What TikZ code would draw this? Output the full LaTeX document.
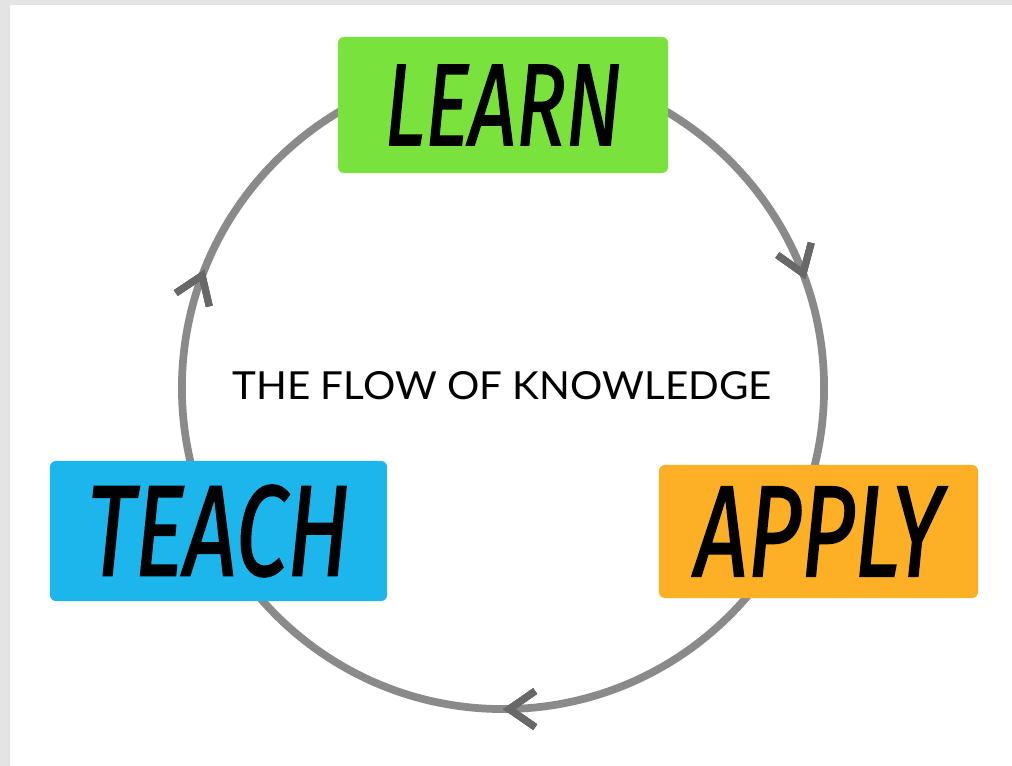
\documentclass[tikz,border=0pt]{standalone}
\usepackage{fontspec}
\usetikzlibrary{arrows.meta,decorations.markings}
\newfontfamily\handfont[FakeBold=1.6]{Fira Sans}
\newfontfamily\titlefont{Lato}
\definecolor{learngreen}{HTML}{7AE23C}
\definecolor{teachblue}{HTML}{1DB6EC}
\definecolor{applyorange}{HTML}{FDAF26}
\definecolor{ringgray}{HTML}{8A8A8A}
\definecolor{edgegray}{HTML}{E4E4E4}
\tikzset{
  ring/.style={draw=ringgray, line width=5.5pt},
  box/.style={rounded corners=0.15cm, inner sep=0pt, text=black},
  flowarrow/.style={decoration={markings,
      mark=at position #1 with {\arrowreversed[ringgray!75!black]{Straight Barb[length=0.65cm,width=0.9cm,line width=5pt]}}},
    postaction=decorate}
}
\newcommand{\handword}[3]{\resizebox{#1}{#2}{\handfont\itshape #3}}
\begin{document}
\begin{tikzpicture}[x=0.025cm,y=0.025cm]
        % Rahmen und Hintergrund
        \fill[edgegray] (0,0) rectangle (1012,766);
        \fill[white] (10,0) rectangle (1012,761);
        \useasboundingbox (0,0) rectangle (1012,766);

        % Kreislauf
        \coordinate (hub) at (503,378);
        \draw[ring, flowarrow=0.055, flowarrow=0.44, flowarrow=0.75] (hub) circle[radius=8.025cm];

        % Stationen
        \node[box, fill=learngreen, minimum width=8.25cm, minimum height=3.4cm] (learn) at (503,661)
            {\handword{5.925cm}{2cm}{LEARN}};
        \node[box, fill=applyorange, minimum width=7.975cm, minimum height=3.325cm] (apply) at (818.5,234.5)
            {\handword{6.175cm}{2.225cm}{APPLY}};
        \node[box, fill=teachblue, minimum width=8.425cm, minimum height=3.5cm] (teach) at (218.5,235)
            {\handword{6.55cm}{2.25cm}{TEACH}};

        \node (title) at (502,380) {\resizebox{13.475cm}{0.7cm}{\titlefont THE FLOW OF KNOWLEDGE}};
    \end{tikzpicture}
\end{document}
